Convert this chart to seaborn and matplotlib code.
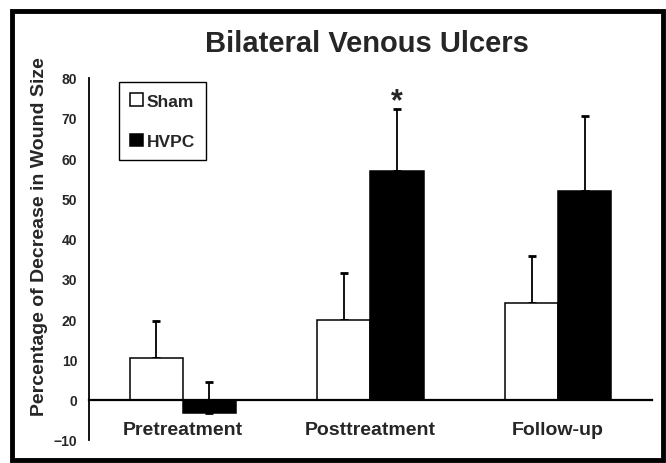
import matplotlib
matplotlib.use("Agg")
import matplotlib.pyplot as plt
import matplotlib.patches as mpatches
import seaborn as sns
import pandas as pd

# values
phases = ["Pretreatment", "Posttreatment", "Follow-up"]
groups = ["Sham", "HVPC"]
sham_mean = [10.3, 19.9, 24.0]
sham_err = [9.3, 11.6, 11.7]
hvpc_mean = [-3.4, 56.8, 51.9]
hvpc_err = [7.7, 15.4, 18.5]
y_ticks = [-10, 0, 10, 20, 30, 40, 50, 60, 70, 80]

df = pd.DataFrame({
    "phase": phases * 2,
    "group": [groups[0]] * 3 + [groups[1]] * 3,
    "value": sham_mean + hvpc_mean,
})

sns.set_style("white")
plt.rcParams["font.family"] = ["Liberation Sans", "DejaVu Sans"]
plt.rcParams["font.weight"] = "bold"
plt.rcParams["axes.labelweight"] = "bold"

fig = plt.figure(figsize=(6.66, 4.64), dpi=100)
ax = fig.add_axes([0.1336, 0.0496, 0.8454, 0.7812])

sns.barplot(data=df, x="phase", y="value", hue="group", order=phases,
            hue_order=groups, palette=["white", "black"], edgecolor="black",
            linewidth=1.1, width=0.566, errorbar=None, ax=ax)

# one-sided (upper) error bars on top of each bar
for cont, errs in zip(ax.containers, [sham_err, hvpc_err]):
    xs = [p.get_x() + p.get_width() / 2 for p in cont.patches]
    vals = list(cont.datavalues)
    ax.errorbar(xs, vals, yerr=[[0] * len(errs), errs], fmt="none",
                ecolor="black", elinewidth=1.3, capsize=3, capthick=2, zorder=0.5)

# significance star over HVPC posttreatment
star_bar = ax.containers[1].patches[1]
ax.text(star_bar.get_x() + star_bar.get_width() / 2, 74, "*",
        ha="center", va="center", fontsize=22, fontweight="bold")

ax.set_xlim(-0.5, 2.5)
ax.set_ylim(-10, 80)
ax.set_yticks(y_ticks)
ax.tick_params(axis="y", direction="inout", length=9, width=1.4, pad=4, labelsize=10)
ax.tick_params(axis="x", length=0, pad=15, labelsize=14)
for lbl in ax.get_yticklabels() + ax.get_xticklabels():
    lbl.set_fontweight("bold")

ax.spines["top"].set_visible(False)
ax.spines["right"].set_visible(False)
ax.spines["bottom"].set_position(("data", 0))
ax.spines["bottom"].set_linewidth(1.6)
ax.spines["left"].set_linewidth(1.3)
ax.spines["bottom"].set_color("black")
ax.spines["left"].set_color("black")

ax.set_xlabel("")
ax.set_ylabel("Percentage of Decrease in Wound Size", fontsize=14)
ax.yaxis.label.set_fontweight("bold")
ax.yaxis.set_label_coords(-0.073, 0.563)

handles, labels = ax.get_legend_handles_labels()
leg = ax.legend(handles, labels, loc="upper left", bbox_to_anchor=(0.053, 0.988),
                borderaxespad=0, fancybox=False, edgecolor="black", framealpha=1,
                prop={"size": 12.5, "weight": "bold"}, handlelength=0.75,
                handleheight=0.75, handletextpad=0.2, labelspacing=1.45,
                borderpad=0.65)
leg.get_frame().set_linewidth(1.0)

fig.text(0.551, 0.888, "Bilateral Venous Ulcers", ha="center", va="baseline",
         fontsize=21, fontweight="bold")

# thick frame round the whole figure
fig.patches.append(mpatches.Rectangle((12 / 666, 3 / 464), 651 / 666, 449 / 464,
                                      transform=fig.transFigure, fill=False,
                                      edgecolor="black", linewidth=3.5))

fig.savefig("out.png", dpi=100)
